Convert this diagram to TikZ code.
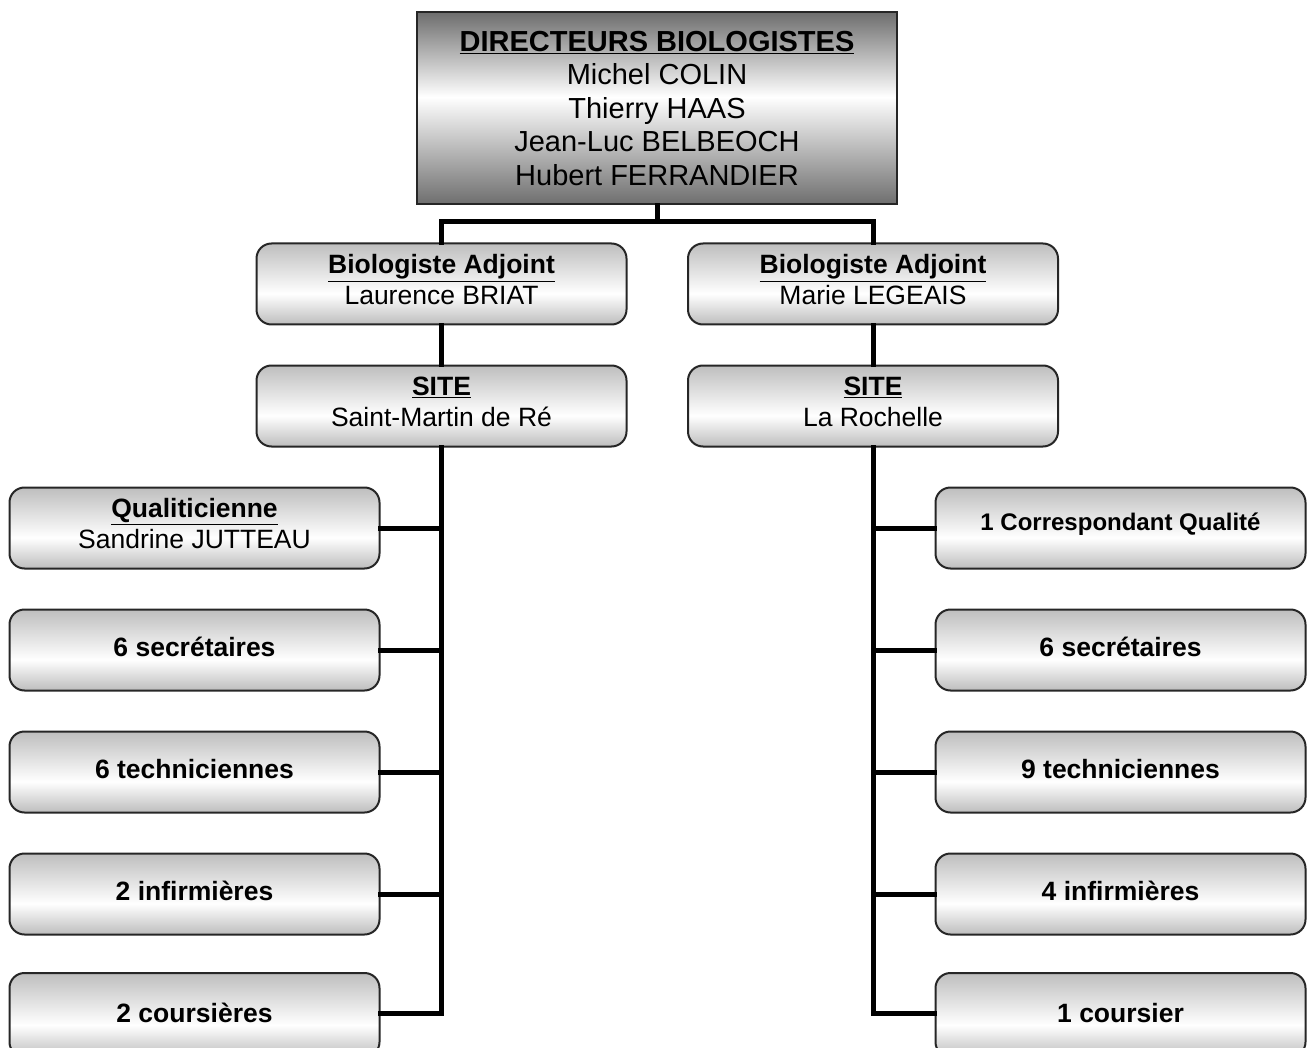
\documentclass[tikz,border=0pt]{standalone}
\usepackage{fontspec}
\setmainfont{Liberation Sans}
\usetikzlibrary{calc}
\definecolor{topgray}{HTML}{6E6E6E}
\definecolor{boxtop}{HTML}{BEBEBE}
\definecolor{boxbot}{HTML}{BDBDBD}
\pgfdeclareverticalshading{dirshade}{100bp}{color(0bp)=(topgray); color(25bp)=(topgray); color(53bp)=(white); color(75bp)=(topgray); color(100bp)=(topgray)}
\pgfdeclareverticalshading{boxshade}{100bp}{color(0bp)=(boxbot); color(25bp)=(boxbot); color(44bp)=(white); color(75bp)=(boxtop); color(100bp)=(boxtop)}
\newcommand{\lowstrut}[1]{\rule[-#1]{0pt}{#1}}
\begin{document}
\begin{tikzpicture}[x=1pt,y=-1pt,
  dirbox/.style={draw=black!85, line width=2pt, shading=dirshade, minimum width=480pt, minimum height=192pt, inner sep=0pt, align=center, font=\fontsize{29}{33.5}\selectfont},
  rbox/.style={draw=black!85, line width=2pt, shading=boxshade, rounded corners=15pt, minimum width=370pt, minimum height=81pt, inner sep=0pt, align=center, font=\fontsize{26.5}{30.5}\selectfont},
  smallbox/.style={rbox, font=\fontsize{24}{28}\bfseries\selectfont},
  bigbold/.style={rbox, font=\fontsize{26.5}{30.5}\bfseries\selectfont},
  conn/.style={line width=5pt, line cap=rect}
]
\useasboundingbox (0,0) rectangle (1311,1048);
\fill[white] (0,0) rectangle (1311,1048);

\coordinate (jt) at (657,222);
\coordinate (jl) at (441,222);
\coordinate (jr) at (873,222);
\coordinate (lb) at (441,1013);
\coordinate (rb) at (873,1013);

\node[dirbox] (dir) at (657,108.5) {\textbf{\underline{DIRECTEURS BIOLOGISTES}}\\Michel COLIN\\Thierry HAAS\\Jean-Luc BELBEOCH\\Hubert FERRANDIER};

\node[rbox] (adjL) at (441.5,284) {\textbf{\underline{Biologiste Adjoint}}\\Laurence BRIAT\lowstrut{9pt}};
\node[rbox] (adjR) at (873,284) {\textbf{\underline{Biologiste Adjoint}}\\Marie LEGEAIS\lowstrut{9pt}};
\node[rbox] (siteL) at (441.5,406) {\textbf{\underline{SITE}}\\Saint-Martin de Ré\lowstrut{9pt}};
\node[rbox] (siteR) at (873,406) {\textbf{\underline{SITE}}\\La Rochelle\lowstrut{9pt}};

\node[rbox] (l1) at (194.5,528) {\textbf{\underline{Qualiticienne}}\\Sandrine JUTTEAU\lowstrut{9pt}};
\node[bigbold] (l2) at (194.5,650) {6 secrétaires\lowstrut{6pt}};
\node[bigbold] (l3) at (194.5,772) {6 techniciennes\lowstrut{6pt}};
\node[bigbold] (l4) at (194.5,894) {2 infirmières\lowstrut{6pt}};
\node[bigbold, minimum height=84pt] (l5) at (194.5,1015) {2 coursières\lowstrut{5pt}};

\node[smallbox] (r1) at (1120.5,528) {1 Correspondant Qualité\lowstrut{12pt}};
\node[bigbold] (r2) at (1120.5,650) {6 secrétaires\lowstrut{6pt}};
\node[bigbold] (r3) at (1120.5,772) {9 techniciennes\lowstrut{6pt}};
\node[bigbold] (r4) at (1120.5,894) {4 infirmières\lowstrut{6pt}};
\node[bigbold, minimum height=84pt] (r5) at (1120.5,1015) {1 coursier\lowstrut{5pt}};

\draw[conn] (dir.south) -- (jt);
\draw[conn] (jl) -- (jr);
\draw[conn] (jl) -- (adjL.north -| jl);
\draw[conn] (jr) -- (adjR.north -| jr);
\draw[conn] (adjL.south -| jl) -- (siteL.north -| jl);
\draw[conn] (adjR.south -| jr) -- (siteR.north -| jr);
\draw[conn] (siteL.south -| jl) -- (lb);
\draw[conn] (siteR.south -| jr) -- (rb);
\foreach \n in {l1,l2,l3,l4} \draw[conn] (\n.east) -- (\n.east -| lb);
\draw[conn] (l5.east |- lb) -- (lb);
\foreach \n in {r1,r2,r3,r4} \draw[conn] (\n.west) -- (\n.west -| rb);
\draw[conn] (r5.west |- rb) -- (rb);
\end{tikzpicture}
\end{document}
